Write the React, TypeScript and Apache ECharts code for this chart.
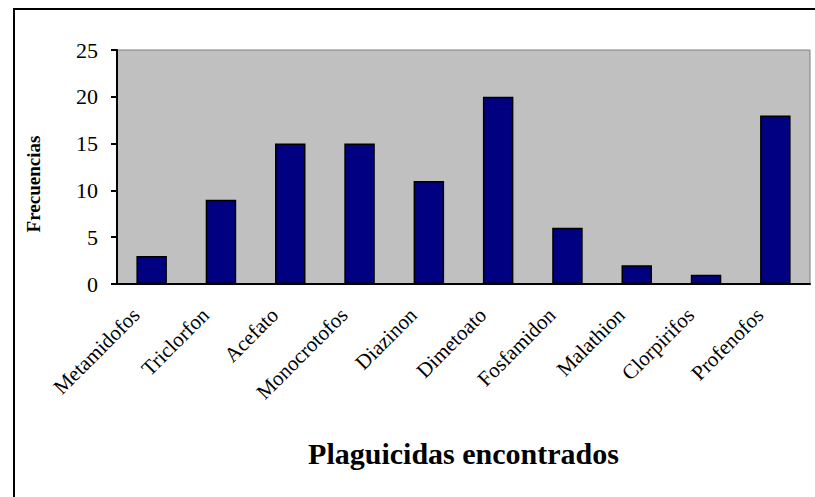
import React, { useEffect, useRef } from "react";
import * as echarts from "echarts";

// Pesticides found and how often each was detected
const categories = [
  "Metamidofos",
  "Triclorfon",
  "Acefato",
  "Monocrotofos",
  "Diazinon",
  "Dimetoato",
  "Fosfamidon",
  "Malathion",
  "Clorpirifos",
  "Profenofos",
];
const frequencies = [3, 9, 15, 15, 11, 20, 6, 2, 1, 18];

const yAxisTitle = "Frecuencias";
const xAxisTitle = "Plaguicidas encontrados";

const FONT = "'Liberation Serif', 'Times New Roman', serif";

export default function App() {
  const ref = useRef<HTMLDivElement>(null);

  useEffect(() => {
    if (!ref.current) return;
    const chart = echarts.init(ref.current, undefined, { renderer: "svg" });
    chart.setOption({
      animation: false,
      backgroundColor: "#ffffff",
      grid: {
        left: 117,
        top: 50,
        right: 5,
        bottom: 213,
        show: true,
        backgroundColor: "#C0C0C0",
        borderColor: "#808080",
        borderWidth: 1,
      },
      graphic: [
        {
          type: "rect",
          shape: { x: 14, y: 9, width: 900, height: 600 },
          style: { fill: "none", stroke: "#000000", lineWidth: 2 },
          silent: true,
        },
        {
          type: "text",
          x: 33,
          y: 184,
          rotation: Math.PI / 2,
          style: {
            text: yAxisTitle,
            font: `bold 19px ${FONT}`,
            fill: "#000000",
            align: "center",
            verticalAlign: "middle",
          },
        },
      ],
      xAxis: {
        type: "category",
        data: categories,
        boundaryGap: true,
        name: xAxisTitle,
        nameLocation: "middle",
        nameGap: 154,
        nameTextStyle: {
          fontFamily: FONT,
          fontWeight: "bold",
          fontSize: 30,
          color: "#000000",
        },
        axisLine: { lineStyle: { color: "#000000", width: 2 } },
        axisTick: { length: 7, lineStyle: { color: "#000000", width: 2 } },
        axisLabel: {
          rotate: 45,
          interval: 0,
          margin: 12,
          padding: [0, 22, 0, 0],
          fontFamily: FONT,
          fontSize: 21,
          color: "#000000",
        },
      },
      yAxis: {
        type: "value",
        min: 0,
        max: 25,
        interval: 5,
        splitLine: { show: false },
        axisLine: { show: true, lineStyle: { color: "#000000", width: 2 } },
        axisTick: { show: true, length: 6, lineStyle: { color: "#000000", width: 2 } },
        axisLabel: {
          margin: 19,
          fontFamily: FONT,
          fontSize: 22,
          color: "#000000",
        },
      },
      series: [
        {
          type: "bar",
          data: frequencies,
          barWidth: "44%",
          itemStyle: {
            color: "#000080",
            borderColor: "#000000",
            borderWidth: 1.5,
          },
        },
      ],
    });
    return () => chart.dispose();
  }, []);

  return (
    <div
      ref={ref}
      style={{ position: "fixed", left: 0, top: 0, width: 815, height: 497 }}
    />
  );
}
